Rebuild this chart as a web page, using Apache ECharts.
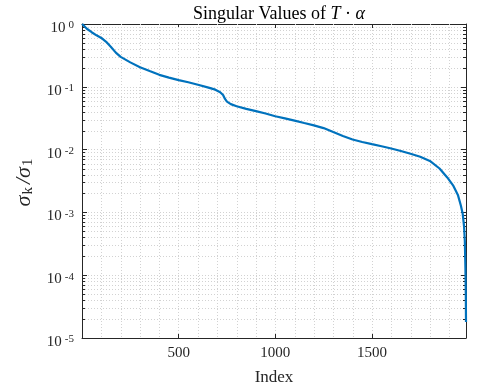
<!DOCTYPE html>
<html>
<head>
<meta charset="utf-8">
<script src="https://cdn.jsdelivr.net/npm/echarts@6/dist/echarts.min.js"></script>
<style>
  html, body { margin: 0; padding: 0; background: #fff; }
  #chart { width: 482px; height: 391px; }
</style>
</head>
<body>
<div id="chart"></div>
<script>
// Normalised singular values sigma_k / sigma_1 against their index
const indices = [1, 10, 25, 50, 75, 100, 125, 150, 175, 200, 250, 300, 350, 400, 450, 500,
  550, 600, 650, 690, 715, 730, 740, 750, 770, 800, 850, 900, 950, 1000, 1050, 1100,
  1150, 1200, 1250, 1300, 1350, 1400, 1450, 1500, 1550, 1600, 1650, 1700, 1750, 1800,
  1850, 1890, 1920, 1945, 1960, 1970, 1977, 1981, 1984, 1986, 1987];
const ratios = [1.0, 0.93, 0.84, 0.74, 0.66, 0.60, 0.52, 0.43, 0.35, 0.30, 0.245, 0.205,
  0.178, 0.155, 0.140, 0.128, 0.118, 0.108, 0.098, 0.090, 0.082, 0.074, 0.064, 0.058,
  0.053, 0.049, 0.0445, 0.041, 0.0375, 0.034, 0.0315, 0.029, 0.0265, 0.0243, 0.022,
  0.019, 0.0165, 0.0145, 0.0132, 0.0122, 0.0113, 0.0104, 0.0095, 0.0086, 0.0077,
  0.0066, 0.0050, 0.0036, 0.0027, 0.0019, 0.0013, 0.00095, 0.0006, 0.00035, 0.00013,
  0.00005, 0.000018];

// Axis extents and tick labels
const X_MIN = 0;
const X_MAX = 1987;
const xTickLabels = [500, 1000, 1500];
const yExponents = [-5, -4, -3, -2, -1, 0];

// Minor grid positions (every 100 on x, 2..9 per decade on y)
const xMinor = [];
for (let v = 100; v < X_MAX; v += 100) if (v % 500 !== 0) xMinor.push(v);
const yMinor = [];
for (let e = -5; e < 0; e++) for (let m = 2; m <= 9; m++) yMinor.push(m * Math.pow(10, e));

const AXIS = '#262626';
const GRID = '#d2d2d2';
const FONT = '"Liberation Serif", "Times New Roman", serif';
const DOT = [1, 2];

const chart = echarts.init(document.getElementById('chart'), null, { renderer: 'canvas' });

const px = v => Math.round(v) + 0.5;

chart.setOption({
  animation: false,
  backgroundColor: '#fff',
  title: {
    text: '{n|Singular Values of }{i|T}{n| · }{i|α}',
    left: 274,
    textAlign: 'center',
    top: 0,
    textStyle: {
      fontWeight: 'normal',
      rich: {
        n: { fontFamily: FONT, fontSize: 18, fontWeight: 'normal', color: '#000' },
        i: { fontFamily: FONT, fontSize: 18, fontWeight: 'normal', fontStyle: 'italic', color: '#000' }
      }
    }
  },
  grid: { left: 82, right: 16, top: 24, bottom: 50, containLabel: false },
  xAxis: [
    {
      type: 'value', position: 'bottom', min: X_MIN, max: X_MAX, interval: 500,
      name: 'Index', nameLocation: 'middle', nameGap: 31,
      nameTextStyle: { fontFamily: FONT, fontSize: 17, color: AXIS },
      axisLine: { show: true, lineStyle: { color: AXIS, width: 1 } },
      axisTick: { show: true, inside: true, length: 4, lineStyle: { color: AXIS } },
      axisLabel: {
        margin: 8, fontFamily: FONT, fontSize: 15, color: AXIS,
        formatter: v => (xTickLabels.includes(v) ? String(v) : '')
      },
      splitLine: { show: true, lineStyle: { color: GRID, type: DOT } },
      minorTick: { show: false }
    },
    {
      type: 'value', position: 'top', min: X_MIN, max: X_MAX, interval: 500,
      axisLine: { show: true, onZero: false, lineStyle: { color: AXIS, width: 1 } },
      axisTick: { show: true, inside: true, length: 4, lineStyle: { color: AXIS } },
      axisLabel: { show: false },
      splitLine: { show: false }
    }
  ],
  yAxis: [
    {
      type: 'log', logBase: 10, position: 'left', min: 1e-5, max: 1,
      name: '{s|σ}{b|k}{s|/σ}{b|1}', nameLocation: 'middle', nameGap: 45, nameRotate: 90,
      nameTextStyle: {
        rich: {
          s: { fontFamily: FONT, fontSize: 22, fontStyle: 'italic', color: AXIS, lineHeight: 24 },
          b: { fontFamily: FONT, fontSize: 15, color: AXIS, lineHeight: 13, verticalAlign: 'bottom', padding: [0, 3, 0, 1] }
        }
      },
      axisLine: { show: true, onZero: false, lineStyle: { color: AXIS, width: 1 } },
      axisTick: { show: true, inside: true, length: 5, lineStyle: { color: AXIS } },
      axisLabel: {
        margin: 8,
        padding: [8, 0, 0, 0],
        formatter: v => '{b|10}{s|' + Math.round(Math.log10(v)) + '}',
        rich: {
          b: { fontFamily: FONT, fontSize: 15, color: AXIS, lineHeight: 16 },
          s: { fontFamily: FONT, fontSize: 11, color: AXIS, lineHeight: 11, verticalAlign: 'top', padding: [0, 0, 0, 3] }
        }
      },
      splitLine: { show: true, lineStyle: { color: GRID, type: DOT } }
    },
    {
      type: 'log', logBase: 10, position: 'right', min: 1e-5, max: 1,
      axisLine: { show: true, onZero: false, lineStyle: { color: AXIS, width: 1 } },
      axisTick: { show: true, inside: true, length: 5, lineStyle: { color: AXIS } },
      axisLabel: { show: false },
      splitLine: { show: false }
    }
  ],
  series: [
    {
      // vertical minor grid lines
      type: 'custom', silent: true, xAxisIndex: 0, yAxisIndex: 0, z: 1,
      data: xMinor.map(v => [v, 1]),
      renderItem(params, api) {
        const cs = params.coordSys;
        const x = px(api.coord([api.value(0), 1])[0]);
        return {
          type: 'line',
          shape: { x1: x, y1: cs.y, x2: x, y2: cs.y + cs.height },
          style: { stroke: GRID, lineWidth: 1, lineDash: DOT }
        };
      }
    },
    {
      // horizontal minor grid lines and minor ticks on both y axes
      type: 'custom', silent: true, xAxisIndex: 0, yAxisIndex: 0, z: 1,
      data: yMinor.map(v => [X_MIN, v]),
      renderItem(params, api) {
        const cs = params.coordSys;
        const y = px(api.coord([X_MIN, api.value(1)])[1]);
        return {
          type: 'group',
          children: [
            { type: 'line', shape: { x1: cs.x, y1: y, x2: cs.x + cs.width, y2: y },
              style: { stroke: GRID, lineWidth: 1, lineDash: DOT } },
            { type: 'line', shape: { x1: cs.x, y1: y, x2: cs.x + 3, y2: y },
              style: { stroke: AXIS, lineWidth: 1 } },
            { type: 'line', shape: { x1: cs.x + cs.width - 3, y1: y, x2: cs.x + cs.width, y2: y },
              style: { stroke: AXIS, lineWidth: 1 } }
          ]
        };
      }
    },
    {
      type: 'line', xAxisIndex: 0, yAxisIndex: 0, z: 3,
      data: indices.map((k, i) => [k, ratios[i]]),
      showSymbol: false, smooth: false,
      lineStyle: { color: '#0072BD', width: 2.2 },
      clip: true
    }
  ]
});
</script>
</body>
</html>
